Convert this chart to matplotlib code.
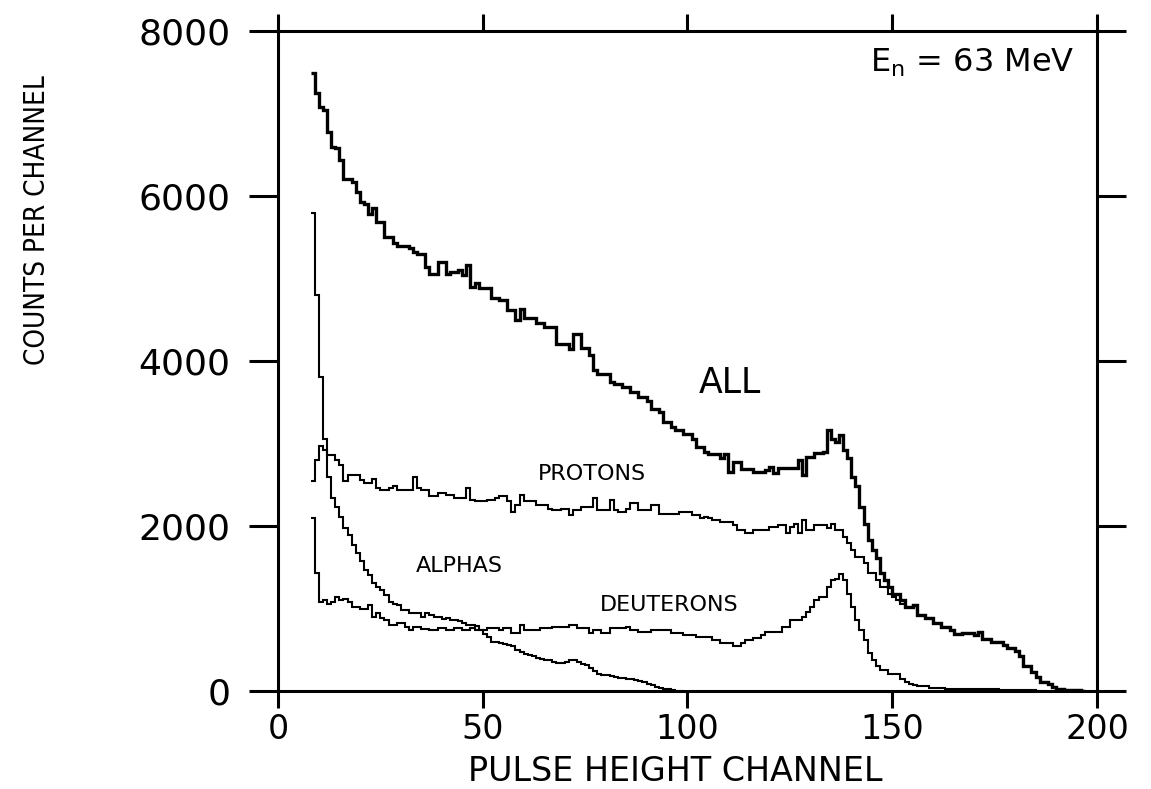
import numpy as np
import matplotlib
matplotlib.use("Agg")
import matplotlib.pyplot as plt

# first channel of every spectrum
ch_start = 8

all_counts = [
    7490, 7250, 7080, 7040, 6770, 6600, 6580, 6440, 6210, 6210,   # 8-17
    6170, 6050, 5930, 5900, 5780, 5850, 5680, 5680, 5500, 5500,   # 18-27
    5430, 5400, 5400, 5400, 5370, 5320, 5300, 5300, 5140, 5060,   # 28-37
    5060, 5200, 5200, 5060, 5080, 5080, 5100, 5040, 5160, 4900,   # 38-47
    4940, 4880, 4880, 4880, 4760, 4760, 4740, 4740, 4620, 4620,   # 48-57
    4500, 4630, 4520, 4520, 4520, 4460, 4460, 4410, 4410, 4410,   # 58-67
    4210, 4210, 4210, 4150, 4330, 4330, 4160, 4160, 4070, 3890,   # 68-77
    3840, 3840, 3840, 3740, 3720, 3720, 3690, 3690, 3620, 3620,   # 78-87
    3560, 3560, 3520, 3420, 3420, 3380, 3260, 3260, 3200, 3160,   # 88-97
    3160, 3120, 3120, 3060, 2960, 2960, 2900, 2870, 2870, 2870,   # 98-107
    2830, 2870, 2660, 2780, 2780, 2690, 2690, 2690, 2650, 2650,   # 108-117
    2650, 2680, 2710, 2640, 2700, 2700, 2700, 2700, 2700, 2800,   # 118-127
    2620, 2840, 2840, 2880, 2880, 2900, 3160, 3060, 3020, 3100,   # 128-137
    2920, 2820, 2600, 2480, 2230, 2030, 1830, 1710, 1610, 1430,   # 138-147
    1350, 1260, 1180, 1180, 1100, 1020, 1020, 1040, 920, 920,     # 148-157
    880, 880, 820, 820, 780, 780, 740, 690, 690, 700,             # 158-167
    700, 700, 680, 720, 630, 630, 600, 600, 600, 560,             # 168-177
    520, 520, 480, 420, 300, 300, 230, 170, 110, 110,             # 178-187
    80, 50, 30, 30, 15, 15, 8, 8, 0,                              # 188-196
]

protons = [
    2550, 2800, 2970, 2920, 2860, 2860, 2800, 2740, 2540, 2620,   # 8-17
    2620, 2620, 2560, 2520, 2520, 2570, 2460, 2440, 2440, 2460,   # 18-27
    2480, 2440, 2440, 2440, 2440, 2590, 2460, 2440, 2440, 2360,   # 28-37
    2360, 2400, 2400, 2380, 2380, 2340, 2340, 2340, 2460, 2320,   # 38-47
    2300, 2300, 2300, 2320, 2320, 2340, 2360, 2360, 2300, 2170,   # 48-57
    2250, 2380, 2300, 2300, 2300, 2250, 2250, 2250, 2210, 2190,   # 58-67
    2190, 2210, 2210, 2130, 2190, 2190, 2230, 2230, 2230, 2340,   # 68-77
    2190, 2190, 2190, 2320, 2190, 2170, 2170, 2210, 2280, 2280,   # 78-87
    2190, 2190, 2190, 2250, 2250, 2150, 2150, 2150, 2150, 2150,   # 88-97
    2170, 2170, 2170, 2130, 2130, 2100, 2110, 2100, 2070, 2070,   # 98-107
    2050, 2050, 2050, 2010, 1950, 1950, 1910, 1910, 1950, 1950,   # 108-117
    1950, 1950, 1990, 1990, 2010, 2010, 1910, 1990, 2030, 1910,   # 118-127
    2070, 1950, 1950, 2010, 2010, 2010, 1970, 2030, 1950, 1950,   # 128-137
    1870, 1790, 1710, 1630, 1630, 1550, 1430, 1430, 1350, 1260,   # 138-147
    1260, 1180, 1140, 1100, 1060, 1020, 1020, 1040, 920, 920,     # 148-157
    880, 880, 820, 820, 780, 780, 740, 690, 690, 700,             # 158-167
    700, 700, 680, 720, 630, 630, 600, 600, 600, 560,             # 168-177
    520, 520, 480, 420, 300, 300, 230, 170, 110, 110,             # 178-187
    80, 50, 30, 30, 15, 15, 8, 8, 0,                              # 188-196
]

alphas = [
    5800, 4800, 3810, 3060, 2600, 2340, 2230, 2110, 1970, 1890,   # 8-17
    1770, 1670, 1570, 1470, 1410, 1310, 1260, 1220, 1160, 1080,   # 18-27
    1060, 1040, 980, 980, 950, 940, 940, 900, 940, 920,           # 28-37
    900, 900, 870, 890, 860, 860, 850, 830, 800, 800,             # 38-47
    790, 740, 690, 660, 600, 600, 580, 570, 560, 540,             # 48-57
    500, 470, 450, 440, 420, 400, 390, 380, 370, 350,             # 58-67
    340, 340, 350, 370, 380, 350, 330, 320, 280, 240,             # 68-77
    210, 200, 190, 180, 170, 160, 160, 150, 140, 130,             # 78-87
    120, 110, 90, 70, 50, 40, 30, 20, 10, 5, 0,                   # 88-98
]

deuterons = [
    2100, 1430, 1080, 1100, 1060, 1080, 1140, 1100, 1120, 1080,   # 8-17
    1020, 1020, 1000, 1000, 1040, 900, 940, 880, 860, 800,        # 18-27
    800, 820, 820, 780, 740, 780, 780, 750, 750, 740,             # 28-37
    740, 760, 760, 740, 740, 760, 760, 740, 740, 760,             # 38-47
    740, 740, 740, 760, 760, 760, 740, 760, 760, 700,             # 48-57
    700, 800, 740, 740, 740, 740, 760, 760, 760, 780,             # 58-67
    780, 780, 780, 800, 800, 760, 760, 760, 700, 740,             # 68-77
    740, 700, 700, 760, 760, 760, 760, 780, 740, 740,             # 78-87
    720, 720, 720, 740, 740, 740, 740, 740, 700, 700,             # 88-97
    700, 680, 680, 680, 660, 660, 660, 660, 620, 620,             # 98-107
    580, 580, 580, 540, 540, 580, 620, 620, 640, 640,             # 108-117
    680, 720, 720, 720, 720, 780, 780, 860, 860, 860,             # 118-127
    900, 960, 1020, 1100, 1140, 1140, 1260, 1340, 1360, 1420,     # 128-137
    1340, 1180, 1020, 860, 740, 620, 460, 380, 300, 260,          # 138-147
    260, 210, 210, 210, 150, 110, 80, 70, 60, 60,                 # 148-157
    60, 40, 40, 40, 40, 20, 20, 20, 20, 20,                       # 158-167
    20, 20, 20, 20, 20, 20, 20, 20, 10, 10,                       # 168-177
    10, 10, 10, 10, 10, 10, 10, 0,                                # 178-185
]

x_ticks = [0, 50, 100, 150, 200]
y_ticks = [0, 2000, 4000, 6000, 8000]

fig = plt.figure(figsize=(11.51, 7.89), dpi=100)
ax = fig.add_axes([0.2415, 0.1242, 0.7116, 0.8365])

def edges(values):
    return np.arange(ch_start, ch_start + len(values) + 1)

ax.stairs(all_counts, edges(all_counts), baseline=None, color='black', linewidth=2.4)
ax.stairs(protons, edges(protons), baseline=None, color='black', linewidth=1.5)
ax.stairs(alphas, edges(alphas), baseline=None, color='black', linewidth=1.5)
ax.stairs(deuterons, edges(deuterons), baseline=None, color='black', linewidth=1.5)

ax.set_xlim(0, 200)
ax.set_ylim(0, 8000)
ax.set_xticks(x_ticks)
ax.set_yticks(y_ticks)

for s in ax.spines.values():
    s.set_linewidth(2.2)

ax.tick_params(axis='y', direction='out', length=21, width=2.2, left=True, right=True,
               labelright=False, labelsize=26, pad=13)
ax.tick_params(axis='x', direction='out', length=12.5, width=2.2, bottom=True, top=True,
               labeltop=False, labelsize=24, pad=3.5)

ax.text(110.4, 3733, 'ALL', fontsize=25, ha='center', va='center')
ax.text(76.7, 2630, 'PROTONS', fontsize=16, ha='center', va='center')
ax.text(44.4, 1515, 'ALPHAS', fontsize=16, ha='center', va='center')
ax.text(95.5, 1042, 'DEUTERONS', fontsize=16, ha='center', va='center')
ax.text(194.6, 7612, r'E$_\mathregular{n}$ = 63 MeV', fontsize=23, ha='right', va='center')

fig.text(0.0321, 0.7212, 'COUNTS PER CHANNEL', rotation=90, fontsize=20,
         fontstretch='condensed', ha='center', va='center')
fig.text(0.5865, 0.001, 'PULSE HEIGHT CHANNEL', fontsize=24, ha='center', va='bottom')

fig.savefig('out.png', dpi=100, facecolor='white')
